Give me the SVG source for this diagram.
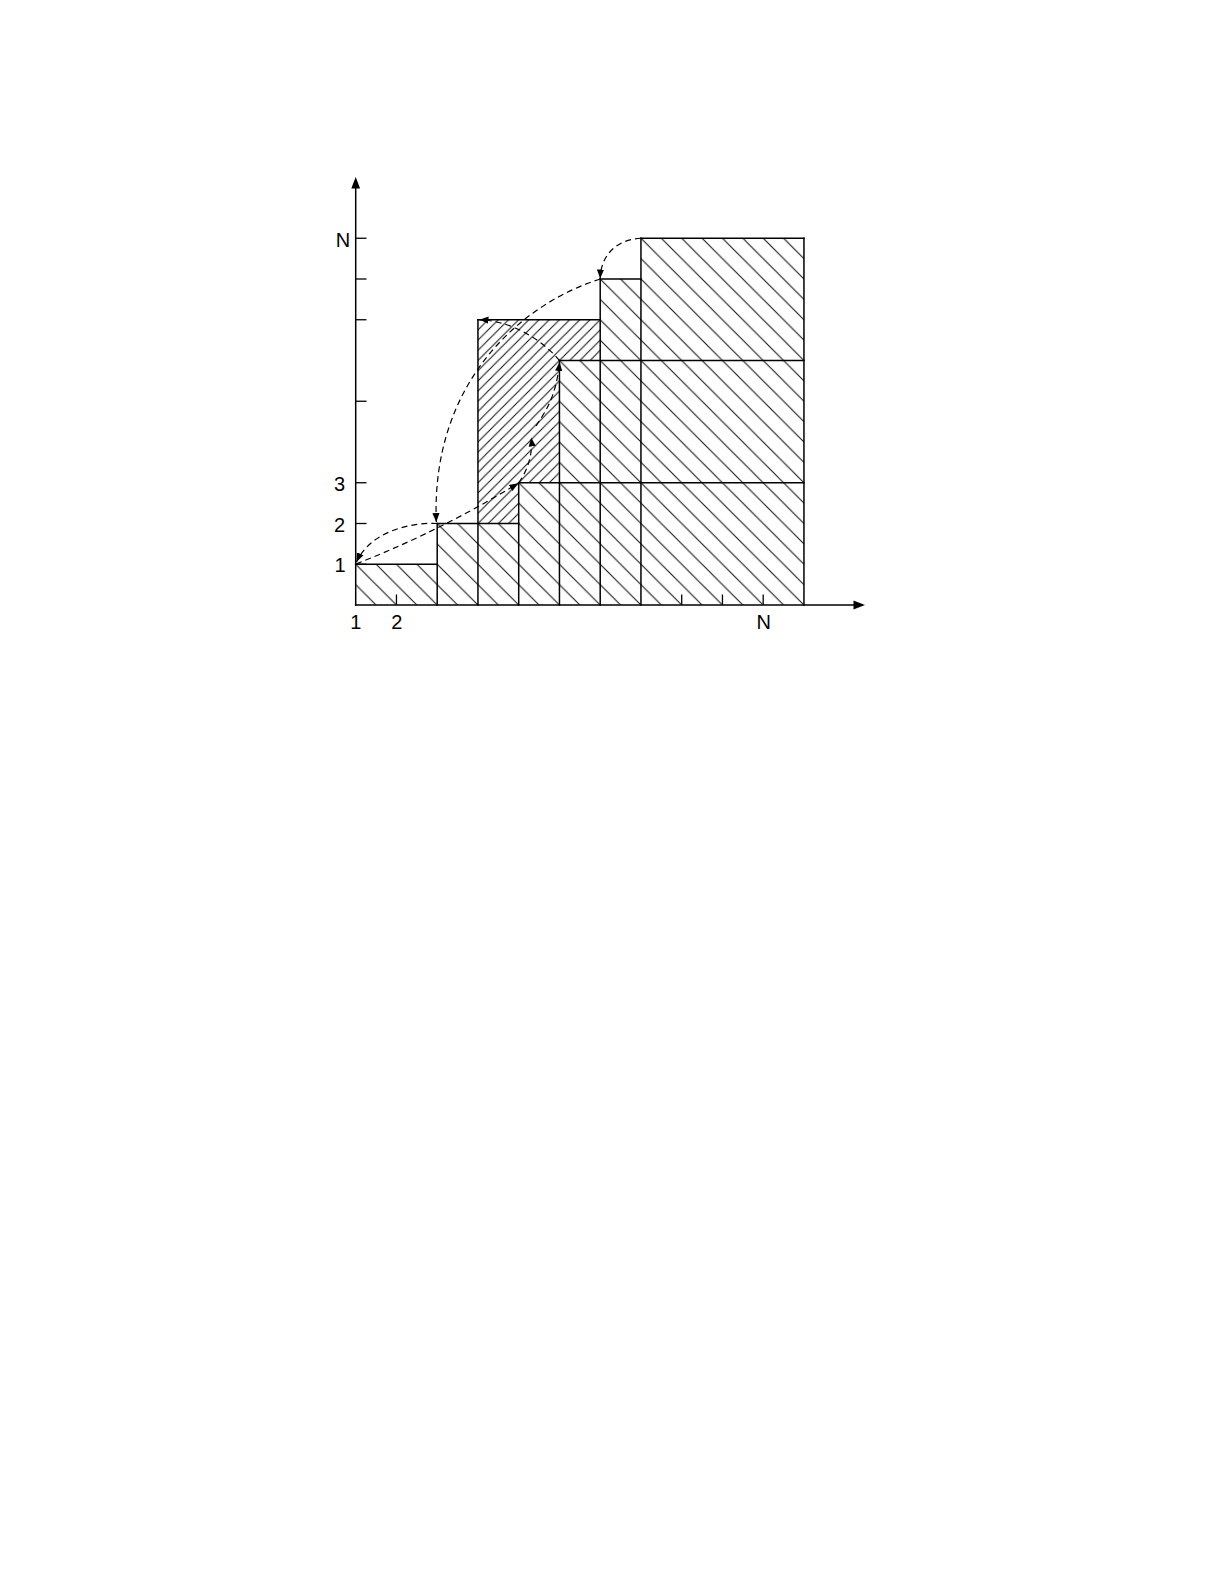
<svg xmlns="http://www.w3.org/2000/svg" width="1225" height="1585" viewBox="0 0 1225 1585">
<style>
.lbl{font-family:"Liberation Sans",Arial,sans-serif;font-size:20px;fill:#000;text-anchor:middle}
.edge{stroke:#000;stroke-width:1.5;fill:none;stroke-linecap:square}
.tick{stroke:#000;stroke-width:1.3;fill:none}
.dash{stroke:#000;stroke-width:1.2;fill:none;stroke-dasharray:6 4}
</style>
<defs>
<pattern id="hb" patternUnits="userSpaceOnUse" x="355.7" y="605" width="20.375" height="20.375">
<path d="M0,0 L20.375,20.375 M-2,18.375 L2,22.375 M18.375,-2 L22.375,2" stroke="#111" stroke-width="1.05"/>
</pattern>
<pattern id="hf" patternUnits="userSpaceOnUse" x="355.7" y="605" width="10.1875" height="10.1875">
<path d="M0,10.1875 L10.1875,0 M-2,2 L2,-2 M8.1875,12.1875 L12.1875,8.1875" stroke="#111" stroke-width="1.05"/>
</pattern>
<marker id="ah" markerUnits="userSpaceOnUse" markerWidth="9" markerHeight="9" viewBox="0 0 10 10" refX="10" refY="5" orient="auto">
<path d="M0,1 L10,5 L0,9 z" fill="#000"/>
</marker>
</defs>
<rect x="0" y="0" width="1225" height="1585" fill="#fff"/>

<g id="axes">
<line class="edge" x1="355.7" y1="605" x2="355.7" y2="186"/>
<polygon points="355.7,177 351.3,188.5 360.1,188.5" fill="#000"/>
<line class="edge" x1="355.7" y1="605" x2="856" y2="605"/>
<polygon points="865,605 853.5,600.6 853.5,609.4" fill="#000"/>
<g id="y-ticks">
<line class="tick" x1="355.7" y1="564.25" x2="366.5" y2="564.25"/>
<line class="tick" x1="355.7" y1="523.5" x2="366.5" y2="523.5"/>
<line class="tick" x1="355.7" y1="482.75" x2="366.5" y2="482.75"/>
<line class="tick" x1="355.7" y1="401.25" x2="366.5" y2="401.25"/>
<line class="tick" x1="355.7" y1="319.75" x2="366.5" y2="319.75"/>
<line class="tick" x1="355.7" y1="279" x2="366.5" y2="279"/>
<line class="tick" x1="355.7" y1="238.25" x2="366.5" y2="238.25"/>
</g>
<g id="x-ticks">
<line class="tick" x1="396.45" y1="605" x2="396.45" y2="594.5"/>
<line class="tick" x1="681.7" y1="605" x2="681.7" y2="594.5"/>
<line class="tick" x1="722.45" y1="605" x2="722.45" y2="594.5"/>
<line class="tick" x1="763.2" y1="605" x2="763.2" y2="594.5"/>
</g>
<g id="axis-labels">
<text class="lbl" x="343" y="247">N</text>
<text class="lbl" x="339.5" y="491">3</text>
<text class="lbl" x="339.5" y="531.7">2</text>
<text class="lbl" x="340" y="571.7">1</text>
<text class="lbl" x="355.7" y="628.5">1</text>
<text class="lbl" x="396.7" y="628.5">2</text>
<text class="lbl" x="763.8" y="628.5">N</text>
</g>
</g>

<g id="blocks-back">
<polygon id="hatch-back" points="355.7,605 803.95,605 803.95,238.25 640.95,238.25 640.95,279 600.2,279 600.2,360.5 559.45,360.5 559.45,482.75 518.7,482.75 518.7,523.5 437.2,523.5 437.2,564.25 355.7,564.25" fill="url(#hb)"/>
</g>
<g id="block-tall">
<polygon points="477.95,319.75 600.2,319.75 600.2,360.5 559.45,360.5 559.45,482.75 518.7,482.75 518.7,523.5 477.95,523.5" fill="url(#hf)"/>
</g>

<g id="block-outlines">
<line class="edge" x1="355.7" y1="564.25" x2="437.2" y2="564.25"/>
<line class="edge" x1="437.2" y1="523.5" x2="518.7" y2="523.5"/>
<line class="edge" x1="518.7" y1="482.75" x2="803.95" y2="482.75"/>
<line class="edge" x1="559.45" y1="360.5" x2="803.95" y2="360.5"/>
<line class="edge" x1="477.95" y1="319.75" x2="600.2" y2="319.75"/>
<line class="edge" x1="600.2" y1="279" x2="640.95" y2="279"/>
<line class="edge" x1="640.95" y1="238.25" x2="803.95" y2="238.25"/>
<line class="edge" x1="437.2" y1="605" x2="437.2" y2="523.5"/>
<line class="edge" x1="477.95" y1="605" x2="477.95" y2="319.75"/>
<line class="edge" x1="518.7" y1="605" x2="518.7" y2="482.75"/>
<line class="edge" x1="559.45" y1="605" x2="559.45" y2="360.5"/>
<line class="edge" x1="600.2" y1="605" x2="600.2" y2="279"/>
<line class="edge" x1="640.95" y1="605" x2="640.95" y2="238.25"/>
<line class="edge" x1="803.95" y1="605" x2="803.95" y2="238.25"/>
</g>

<g id="connectors">
<path class="dash" d="M640.95,238.25 C620,239 601,252 600.2,278.5" marker-end="url(#ah)"/>
<path class="dash" d="M600.2,279 C518,305 431,385 436.3,522" marker-end="url(#ah)"/>
<path class="dash" d="M437.2,523.5 C410,522 370,532 356.5,562" marker-end="url(#ah)"/>
<path class="dash" d="M356,564 Q440,531 518.2,483.3" marker-end="url(#ah)"/>
<path class="dash" d="M518.7,482.75 C528,470 533,453 531.2,437.5" marker-end="url(#ah)"/>
<path class="dash" d="M536,426 C545,412 556,398 559.6,362" marker-end="url(#ah)"/>
<path class="dash" d="M559.45,360.5 C545,343 515,321 479.5,319.8" marker-end="url(#ah)"/>
</g>
</svg>
